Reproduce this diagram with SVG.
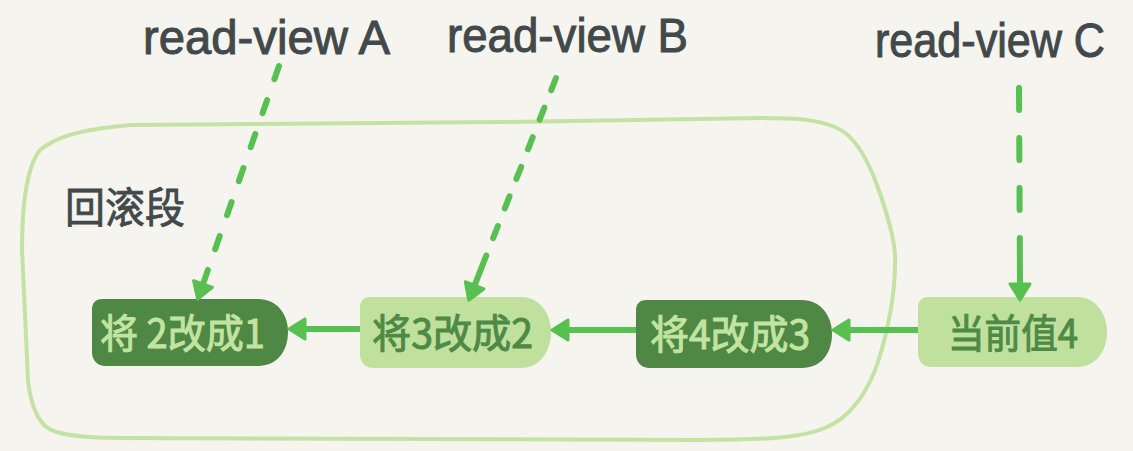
<svg xmlns="http://www.w3.org/2000/svg" width="1133" height="451" viewBox="0 0 1133 451">
  <style>
    .label { font-family: "Liberation Sans", "Noto Sans", sans-serif; font-size: 48px; fill: #42494b; stroke: #42494b; stroke-width: 1; }
    .title { font-family: "Noto Sans CJK SC", "Noto Sans", sans-serif; font-size: 42px; fill: #42494b; stroke: #42494b; stroke-width: 0.8; }
    .ntext { font-family: "Noto Sans CJK SC", "Noto Sans", sans-serif; font-size: 40px; stroke-width: 1; }
    .dark { fill: #4f8744; }
    .light { fill: #c0e09d; }
    .dark-text { fill: #c2e4a1; stroke: #c2e4a1; }
    .light-text { fill: #4e8a46; stroke: #4e8a46; }
    .seg { fill: none; stroke: #c5e2a5; stroke-width: 4; stroke-linejoin: round; stroke-linecap: round; }
    .link { fill: none; stroke: #58bf51; stroke-width: 6; }
    .dash { stroke-linecap: round; }
  </style>
  <defs>
    <marker id="arrow" markerUnits="userSpaceOnUse" viewBox="0 0 20 24" refX="2" refY="12" markerWidth="20" markerHeight="24" orient="auto">
      <path d="M2,2 L18,12 L2,22 Z" fill="#58bf51" stroke="#58bf51" stroke-width="3" stroke-linejoin="round"/>
    </marker>
  </defs>
  <rect x="0" y="0" width="1133" height="451" fill="#f5f4ef"/>

  <g id="rollback-segment">
    <path class="seg" d="M22,250 C22,200 28,165 40,150 C55,138 75,130 130,125 L500,122 L760,118 C800,118 818,120 835,127 C855,135 868,160 877,185 C886,210 894,235 895,255 C896,290 888,330 878,362 C868,392 850,418 825,428 C805,436 780,440 700,440 L120,438 C80,438 55,435 45,426 C35,416 30,400 28,380 L22,250 Z"/>
    <text class="title" x="65" y="223" textLength="120" lengthAdjust="spacingAndGlyphs">回滚段</text>
  </g>

  <g id="label-a">
    <text class="label" x="143" y="54" textLength="247" lengthAdjust="spacingAndGlyphs">read-view A</text>
  </g>
  <g id="label-b">
    <text class="label" x="447" y="52" textLength="241" lengthAdjust="spacingAndGlyphs">read-view B</text>
  </g>
  <g id="label-c">
    <text class="label" x="875" y="57" textLength="230" lengthAdjust="spacingAndGlyphs">read-view C</text>
  </g>

  <g id="node-1">
    <path class="dark" d="M102,299 L258,299 C276,299 288,313 288,332 C288,352 276,366 258,366 L106,366 C97,366 92,360 92,352 L92,309 C92,303 96,299 102,299 Z"/>
    <text class="ntext dark-text" x="100" y="348" textLength="165" lengthAdjust="spacingAndGlyphs">将 2改成1</text>
  </g>
  <g id="node-2">
    <path class="light" d="M370,297 L521,297 C539,297 551,313 551,332 C551,352 539,368 521,368 L374,368 C365,368 360,362 360,354 L360,307 C360,301 364,297 370,297 Z"/>
    <text class="ntext light-text" x="372" y="348" textLength="161" lengthAdjust="spacingAndGlyphs">将3改成2</text>
  </g>
  <g id="node-3">
    <path class="dark" d="M646,300 L802,300 C820,300 832,315 832,334 C832,354 820,368 802,368 L650,368 C641,368 636,362 636,354 L636,310 C636,304 640,300 646,300 Z"/>
    <text class="ntext dark-text" x="650" y="349" textLength="160" lengthAdjust="spacingAndGlyphs">将4改成3</text>
  </g>
  <g id="node-4">
    <path class="light" d="M928,297 L1077,297 C1095,297 1107,313 1107,332 C1107,352 1095,367 1077,367 L932,367 C923,367 918,361 918,353 L918,307 C918,301 922,297 928,297 Z"/>
    <text class="ntext light-text" x="948" y="348" textLength="130" lengthAdjust="spacingAndGlyphs">当前值4</text>
  </g>

  <g id="connectors">
    <path class="link dash" d="M279,66 L203,284" stroke-dasharray="14 22" marker-end="url(#arrow)"/>
    <path class="link dash" d="M556,78 L474.6,285.3" stroke-dasharray="13 18.8 13 18.8 13 18.8 13 18.8 13 18.8 13 18.8 32 60" marker-end="url(#arrow)"/>
    <path class="link dash" d="M1019,88 L1020,284" stroke-dasharray="22 28 22 28 22 28 46 100" marker-end="url(#arrow)"/>
    <path class="link" d="M360,329 L305,329" marker-end="url(#arrow)"/>
    <path class="link" d="M636,330 L568,330" marker-end="url(#arrow)"/>
    <path class="link" d="M918,330 L849,330" marker-end="url(#arrow)"/>
  </g>
</svg>
